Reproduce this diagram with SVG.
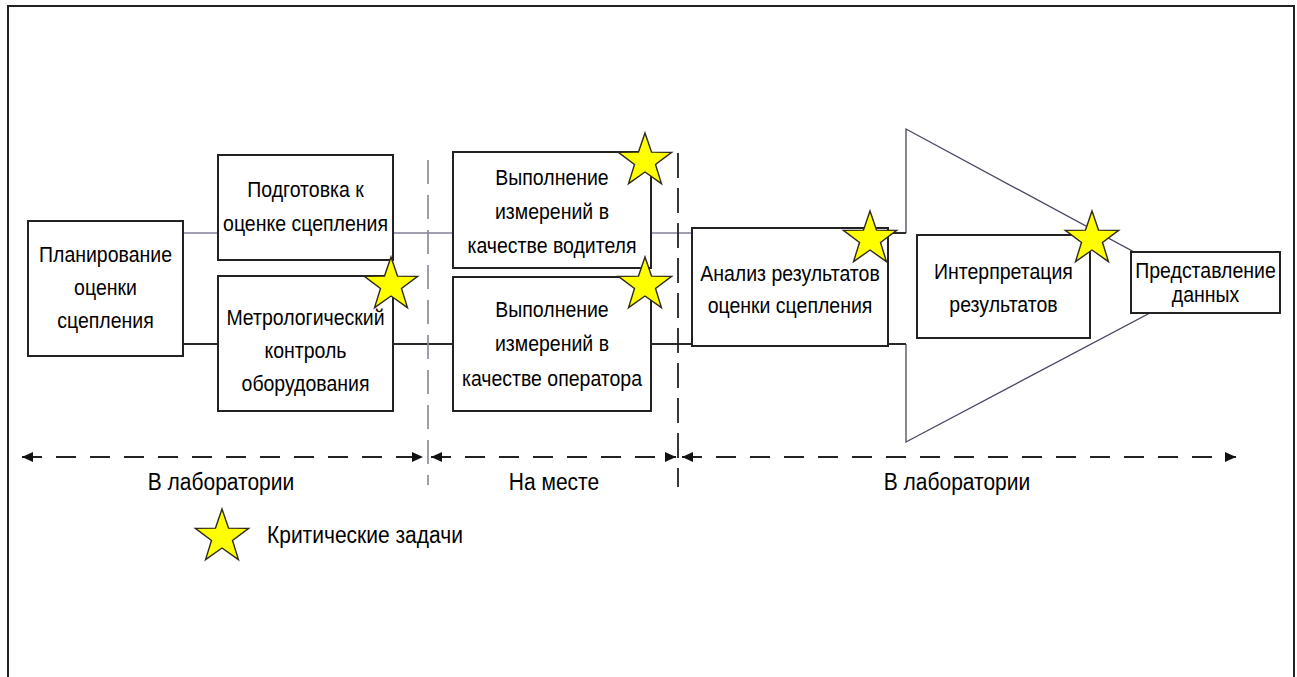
<svg xmlns="http://www.w3.org/2000/svg" xmlns:xlink="http://www.w3.org/1999/xlink" width="1297" height="677" viewBox="0 0 1297 677">
  <style>
    .frame { fill: none; stroke: #222; stroke-width: 2; }
    .box { fill: #fff; stroke: #222; stroke-width: 2; }
    .t { font-family: "Liberation Sans", Arial, sans-serif; font-size: 19.5px; fill: #000; text-anchor: middle; }
    .lbl { font-family: "Liberation Sans", Arial, sans-serif; font-size: 21px; fill: #000; text-anchor: middle; }
    .link-light { stroke: #857d98; stroke-width: 1.6; fill: none; }
    .link-dark { stroke: #2a2a2a; stroke-width: 2; fill: none; }
    .funnel { stroke: #4a4560; stroke-width: 1.3; fill: none; }
    .zone { stroke: #222; stroke-width: 2; fill: none; stroke-dasharray: 20 14; }
    .split-light { stroke: #8a8494; stroke-width: 1.6; fill: none; stroke-dasharray: 24 11; }
    .split-dark { stroke: #222; stroke-width: 1.8; fill: none; stroke-dasharray: 25 10; }
    .star { fill: #ffff00; stroke: #2e2a1a; stroke-width: 1.4; stroke-linejoin: miter; }
  </style>
  <defs>
    <marker id="arrow" markerUnits="userSpaceOnUse" viewBox="0 0 11 10" refX="11" refY="5" markerWidth="11" markerHeight="10" orient="auto-start-reverse">
      <path d="M0,0 L11,5 L0,10 z" fill="#111"/>
    </marker>
    <polygon id="star" class="star" points="0,-28 6.5,-8.9 26.63,-8.65 10.5,3.4 16.46,22.65 0,11 -16.46,22.65 -10.5,3.4 -26.63,-8.65 -6.5,-8.9"/>
  </defs>

  <rect width="1297" height="677" fill="#fff"/>
  <rect class="frame" x="8" y="6" width="1286" height="700"/>

  <!-- funnel behind the last two stages -->
  <path id="funnel" class="funnel" d="M906,233 V129 L1199,287 L906,442 V344"/>

  <!-- connectors -->
  <g id="connectors">
    <line class="link-light" x1="183" y1="233" x2="218" y2="233"/>
    <line class="link-dark" x1="183" y1="344" x2="218" y2="344"/>
    <line class="link-light" x1="393" y1="233" x2="453" y2="233"/>
    <line class="link-dark" x1="393" y1="344" x2="453" y2="344"/>
    <line class="link-light" x1="651" y1="233" x2="692" y2="233"/>
    <line class="link-dark" x1="651" y1="344" x2="692" y2="344"/>
    <line class="link-dark" x1="888" y1="233" x2="906" y2="233"/>
    <line class="link-dark" x1="888" y1="344" x2="906" y2="344"/>
  </g>

  <!-- phase boundaries and spans -->
  <g id="phases">
    <line class="split-light" x1="428" y1="160" x2="428" y2="485"/>
    <line class="split-dark" x1="678" y1="153" x2="678" y2="487"/>
    <line class="zone" x1="22" y1="457" x2="423" y2="457" marker-start="url(#arrow)" marker-end="url(#arrow)"/>
    <line class="zone" x1="431" y1="457" x2="676" y2="457" marker-start="url(#arrow)" marker-end="url(#arrow)"/>
    <line class="zone" x1="682" y1="457" x2="1236" y2="457" marker-start="url(#arrow)" marker-end="url(#arrow)"/>
    <text class="lbl" transform="translate(221,490) scale(1,1.12)">В лаборатории</text>
    <text class="lbl" transform="translate(554,490) scale(1,1.12)">На месте</text>
    <text class="lbl" transform="translate(957,490) scale(1,1.12)">В лаборатории</text>
  </g>

  <g id="planning">
    <rect class="box" x="28" y="221" width="155" height="135"/>
    <text class="t" transform="translate(105.5,262) scale(1,1.12)"><tspan x="0" y="0">Планирование</tspan><tspan x="0" y="29.46">оценки</tspan><tspan x="0" y="58.93">сцепления</tspan></text>
  </g>

  <g id="preparation">
    <rect class="box" x="218" y="155" width="175" height="105"/>
    <text class="t" transform="translate(305.5,197) scale(1,1.12)"><tspan x="0" y="0">Подготовка к</tspan><tspan x="0" y="30.36">оценке сцепления</tspan></text>
  </g>

  <g id="metrology">
    <rect class="box" x="218" y="276" width="175" height="135"/>
    <text class="t" transform="translate(305.5,325) scale(1,1.12)"><tspan x="0" y="0">Метрологический</tspan><tspan x="0" y="29.46">контроль</tspan><tspan x="0" y="58.93">оборудования</tspan></text>
  </g>

  <g id="driver-run">
    <rect class="box" x="453" y="152" width="198" height="116"/>
    <text class="t" transform="translate(552,185) scale(1,1.12)"><tspan x="0" y="0">Выполнение</tspan><tspan x="0" y="30.36">измерений в</tspan><tspan x="0" y="60.71">качестве водителя</tspan></text>
  </g>

  <g id="operator-run">
    <rect class="box" x="453" y="277" width="198" height="134"/>
    <text class="t" transform="translate(552,317) scale(1,1.12)"><tspan x="0" y="0">Выполнение</tspan><tspan x="0" y="30.8">измерений в</tspan><tspan x="0" y="61.6">качестве оператора</tspan></text>
  </g>

  <g id="analysis">
    <rect class="box" x="692" y="228" width="196" height="118"/>
    <text class="t" transform="translate(790,281) scale(1,1.12)"><tspan x="0" y="0">Анализ результатов</tspan><tspan x="0" y="28.57">оценки сцепления</tspan></text>
  </g>

  <g id="interpretation">
    <rect class="box" x="917" y="235" width="173" height="103"/>
    <text class="t" transform="translate(1003.5,279) scale(1,1.12)"><tspan x="0" y="0">Интерпретация</tspan><tspan x="0" y="29.46">результатов</tspan></text>
  </g>

  <g id="presentation">
    <rect class="box" x="1131" y="252" width="149" height="61"/>
    <text class="t" transform="translate(1205.5,278) scale(1,1.12)"><tspan x="0" y="0">Представление</tspan><tspan x="0" y="21.43">данных</tspan></text>
  </g>

  <!-- critical-task markers -->
  <g id="critical-marks">
    <use xlink:href="#star" x="391" y="285"/>
    <use xlink:href="#star" x="645" y="161"/>
    <use xlink:href="#star" x="645" y="285"/>
    <use xlink:href="#star" x="870" y="239"/>
    <use xlink:href="#star" x="1092" y="239"/>
  </g>

  <g id="legend">
    <use xlink:href="#star" x="222" y="537"/>
    <text class="lbl" style="text-anchor:start" transform="translate(267,543) scale(1,1.12)">Критические задачи</text>
  </g>
</svg>
